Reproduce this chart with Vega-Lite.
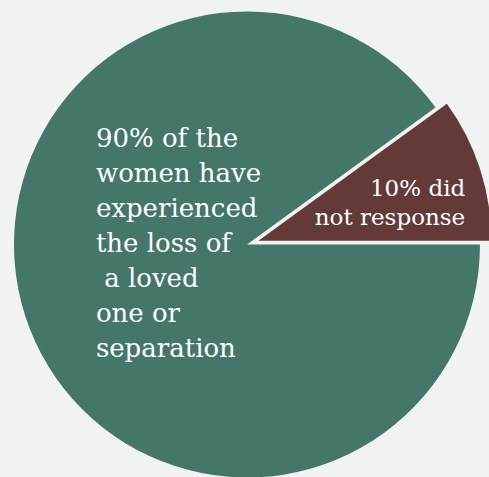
{
  "$schema": "https://vega.github.io/schema/vega-lite/v6.json",
  "width": 466,
  "height": 465,
  "autosize": "none",
  "padding": {"left": 14, "top": 12, "right": 9, "bottom": 0},
  "background": "#f1f2f2",
  "config": {"view": {"stroke": null}},
  "data": {
    "values": [
      {"group": "no response", "value": 10, "label": "10% did\nnot response"},
      {"group": "loss or separation", "value": 90, "label": "90% of the\nwomen have\nexperienced\nthe loss of\n\u200b a loved\none or\nseparation"}
    ]
  },
  "encoding": {
    "theta": {"field": "value", "type": "quantitative", "stack": true, "scale": {"domain": [0, 100], "range": [0.9425, 7.2257]}},
    "order": {"field": "value", "type": "quantitative", "sort": "ascending"}
  },
  "layer": [
    {
      "mark": {"type": "arc", "outerRadius": 233},
      "encoding": {
        "color": {"field": "group", "type": "nominal", "scale": {"domain": ["no response", "loss or separation"], "range": ["#643a38", "#45766a"]}, "legend": null},
        "opacity": {"condition": {"test": "datum.group === 'no response'", "value": 0}, "value": 1}
      }
    },
    {
      "mark": {"type": "arc", "outerRadius": 233, "xOffset": 11.4, "yOffset": -3.7},
      "encoding": {
        "color": {"field": "group", "type": "nominal", "legend": null},
        "opacity": {"condition": {"test": "datum.group === 'no response'", "value": 1}, "value": 0}
      }
    },
    {
      "mark": {"type": "text", "radius": 100, "align": "left", "baseline": "alphabetic", "dx": -56, "dy": -128, "font": "DejaVu Serif", "fontSize": 26, "lineHeight": 35, "lineBreak": "\n", "color": "#ffffff"},
      "encoding": {
        "text": {"condition": {"test": "datum.group === 'loss or separation'", "field": "label"}, "value": ""}
      }
    },
    {
      "mark": {"type": "text", "radius": 200, "align": "right", "baseline": "alphabetic", "dx": 28, "dy": 13, "font": "DejaVu Serif", "fontSize": 23, "lineHeight": 29, "lineBreak": "\n", "color": "#ffffff"},
      "encoding": {
        "text": {"condition": {"test": "datum.group === 'no response'", "field": "label"}, "value": ""}
      }
    }
  ]
}
